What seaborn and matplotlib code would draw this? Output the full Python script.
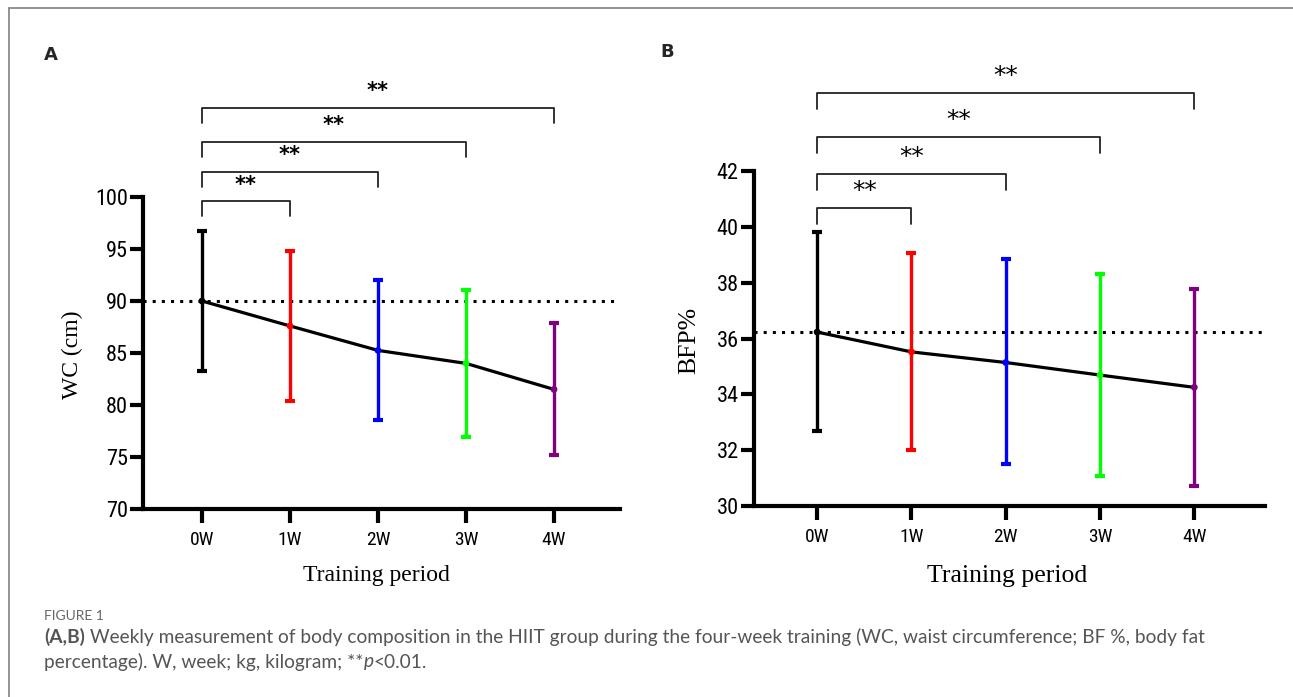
import matplotlib
matplotlib.use("Agg")
import matplotlib.pyplot as plt
import seaborn as sns
import pandas as pd
from matplotlib.lines import Line2D

# ---------------- data ----------------
weeks = ["0W", "1W", "2W", "3W", "4W"]
wc_mean = [90.0, 87.6, 85.25, 84.0, 81.5]
wc_upper = [96.75, 94.85, 92.0, 91.05, 87.85]
wc_lower = [83.25, 80.4, 78.6, 76.95, 75.15]
bfp_mean = [36.23, 35.52, 35.14, 34.69, 34.25]
bfp_upper = [39.81, 39.08, 38.83, 38.32, 37.76]
bfp_lower = [32.69, 32.01, 31.51, 31.08, 30.73]
colors = ["#000000", "#FF0000", "#0000FF", "#00FF00", "#800080"]
comparisons = [(0, 1), (0, 2), (0, 3), (0, 4)]
sig_labels = ["**", "**", "**", "**"]
wc_ticks = [70, 75, 80, 85, 90, 95, 100]
bfp_ticks = [30, 32, 34, 36, 38, 40, 42]

sns.set_theme(style="ticks")
plt.rcParams["font.family"] = ["DejaVu Sans"]

W, H = 1293, 697
fig = plt.figure(figsize=(W / 100, H / 100), dpi=100)
fig.patch.set_facecolor("white")

NARROW = ["Liberation Sans Narrow", "DejaVu Sans Condensed", "Roboto Condensed", "Liberation Sans"]
SERIF = ["Liberation Serif", "DejaVu Serif"]


def px_axes(l, t, r, b):
    return fig.add_axes([l / W, 1 - b / H, (r - l) / W, (b - t) / H])


def draw_panel(ax, mean, lo, hi, yticks, ylabel, lab_fs, ytick_fs, xtick_fs, brackets, drop, star_off, star_kw):
    df = pd.DataFrame({"x": list(range(len(weeks))), "mean": mean, "week": weeks})
    ax.axhline(mean[0], ls=(0, (1, 2)), color="black", lw=2.2, zorder=1)
    for i in range(len(weeks)):
        ax.errorbar(i, mean[i], yerr=[[mean[i] - lo[i]], [hi[i] - mean[i]]],
                    fmt="none", ecolor=colors[i], elinewidth=2.4, capsize=3.6,
                    capthick=3, zorder=2)
    sns.lineplot(data=df, x="x", y="mean", color="black", lw=2.3, ax=ax, zorder=3)
    sns.scatterplot(data=df, x="x", y="mean", hue="week", palette=colors, s=24,
                    ax=ax, legend=False, zorder=4, linewidth=0)
    ax.set_xlim(-0.67, 4.75)
    ax.set_ylim(yticks[0], yticks[-1])
    ax.set_yticks(yticks)
    ax.set_xticks(range(len(weeks)))
    ax.set_xticklabels(weeks, family=NARROW, fontsize=xtick_fs)
    ax.set_yticklabels([str(t) for t in yticks], family=NARROW, fontsize=ytick_fs)
    for s in ["top", "right"]:
        ax.spines[s].set_visible(False)
    for s in ["left", "bottom"]:
        ax.spines[s].set_linewidth(3)
        ax.spines[s].set_color("black")
    ax.tick_params(axis="y", width=3, length=9.5, pad=1.5, colors="black")
    ax.tick_params(axis="x", width=3, length=10, pad=6, colors="black")
    ax.set_xlabel("Training period", family=SERIF, fontsize=lab_fs, color="black")
    ax.set_ylabel(ylabel, family=SERIF, fontsize=lab_fs, color="black")
    ax.set_facecolor("white")
    # significance brackets
    for (a, b), lab, yb in zip(comparisons, sig_labels, brackets):
        ax.plot([a, a, b, b], [yb - drop, yb, yb, yb - drop], color="#222222",
                lw=1.3, clip_on=False, zorder=5)
        ax.text((a + b) / 2, yb + star_off, lab, ha="center", va="center",
                clip_on=False, **star_kw)


# Panel A
axA = px_axes(143, 197, 620, 509)
draw_panel(axA, wc_mean, wc_lower, wc_upper, wc_ticks, "WC (cm)", 17, 16, 14,
           brackets=[99.6, 102.4, 105.3, 108.6], drop=1.45, star_off=1.6,
           star_kw=dict(fontsize=15, fontweight="bold", color="black"))
axA.xaxis.set_label_coords(0.49, -0.18)
axA.yaxis.set_label_coords(-0.125, 0.494)

# Panel B
axB = px_axes(754, 171, 1265, 506)
draw_panel(axB, bfp_mean, bfp_lower, bfp_upper, bfp_ticks, "BFP%", 18.5, 16, 14,
           brackets=[40.68, 41.9, 43.23, 44.8], drop=0.57, star_off=0.6,
           star_kw=dict(fontsize=18, color="black"))
axB.xaxis.set_label_coords(0.495, -0.176)
axB.yaxis.set_label_coords(-0.106, 0.495)

# panel letters
fig.text(44 / W, 1 - 55 / H, "A", fontsize=13, fontweight="bold", ha="left", va="center")
fig.text(660 / W, 1 - 52 / H, "B", fontsize=13, fontweight="bold", ha="left", va="center")

# frame lines (top and left)
fig.add_artist(Line2D([9 / W, 1], [1 - 8 / H, 1 - 8 / H], color="#8a8a8a", lw=1.3))
fig.add_artist(Line2D([9 / W, 9 / W], [0, 1 - 8 / H], color="#8a8a8a", lw=1.3))

# caption
CAP = ["Lato", "DejaVu Sans"]
capc = "#555555"
fig.text(44 / W, 1 - 616 / H, "FIGURE 1", fontsize=10, color="#666666",
         family=CAP, ha="left", va="center")

renderer = fig.canvas.get_renderer()


def seq(x, y, pieces):
    for s, kw in pieces:
        t = fig.text(x / W, 1 - y / H, s, ha="left", va="center", family=CAP,
                     fontsize=13.8, color=capc, **kw)
        bb = t.get_window_extent(renderer)
        x = bb.x1


seq(44, 637, [("(A,B)", dict(fontweight="bold")),
              (" Weekly measurement of body composition in the HIIT group during the four-week training (WC, waist circumference; BF %, body fat", {})])
seq(44, 662, [("percentage). W, week; kg, kilogram; **", {}),
              ("p", dict(style="italic")),
              ("<0.01.", {})])

fig.savefig("out.png", dpi=100, facecolor="white")
